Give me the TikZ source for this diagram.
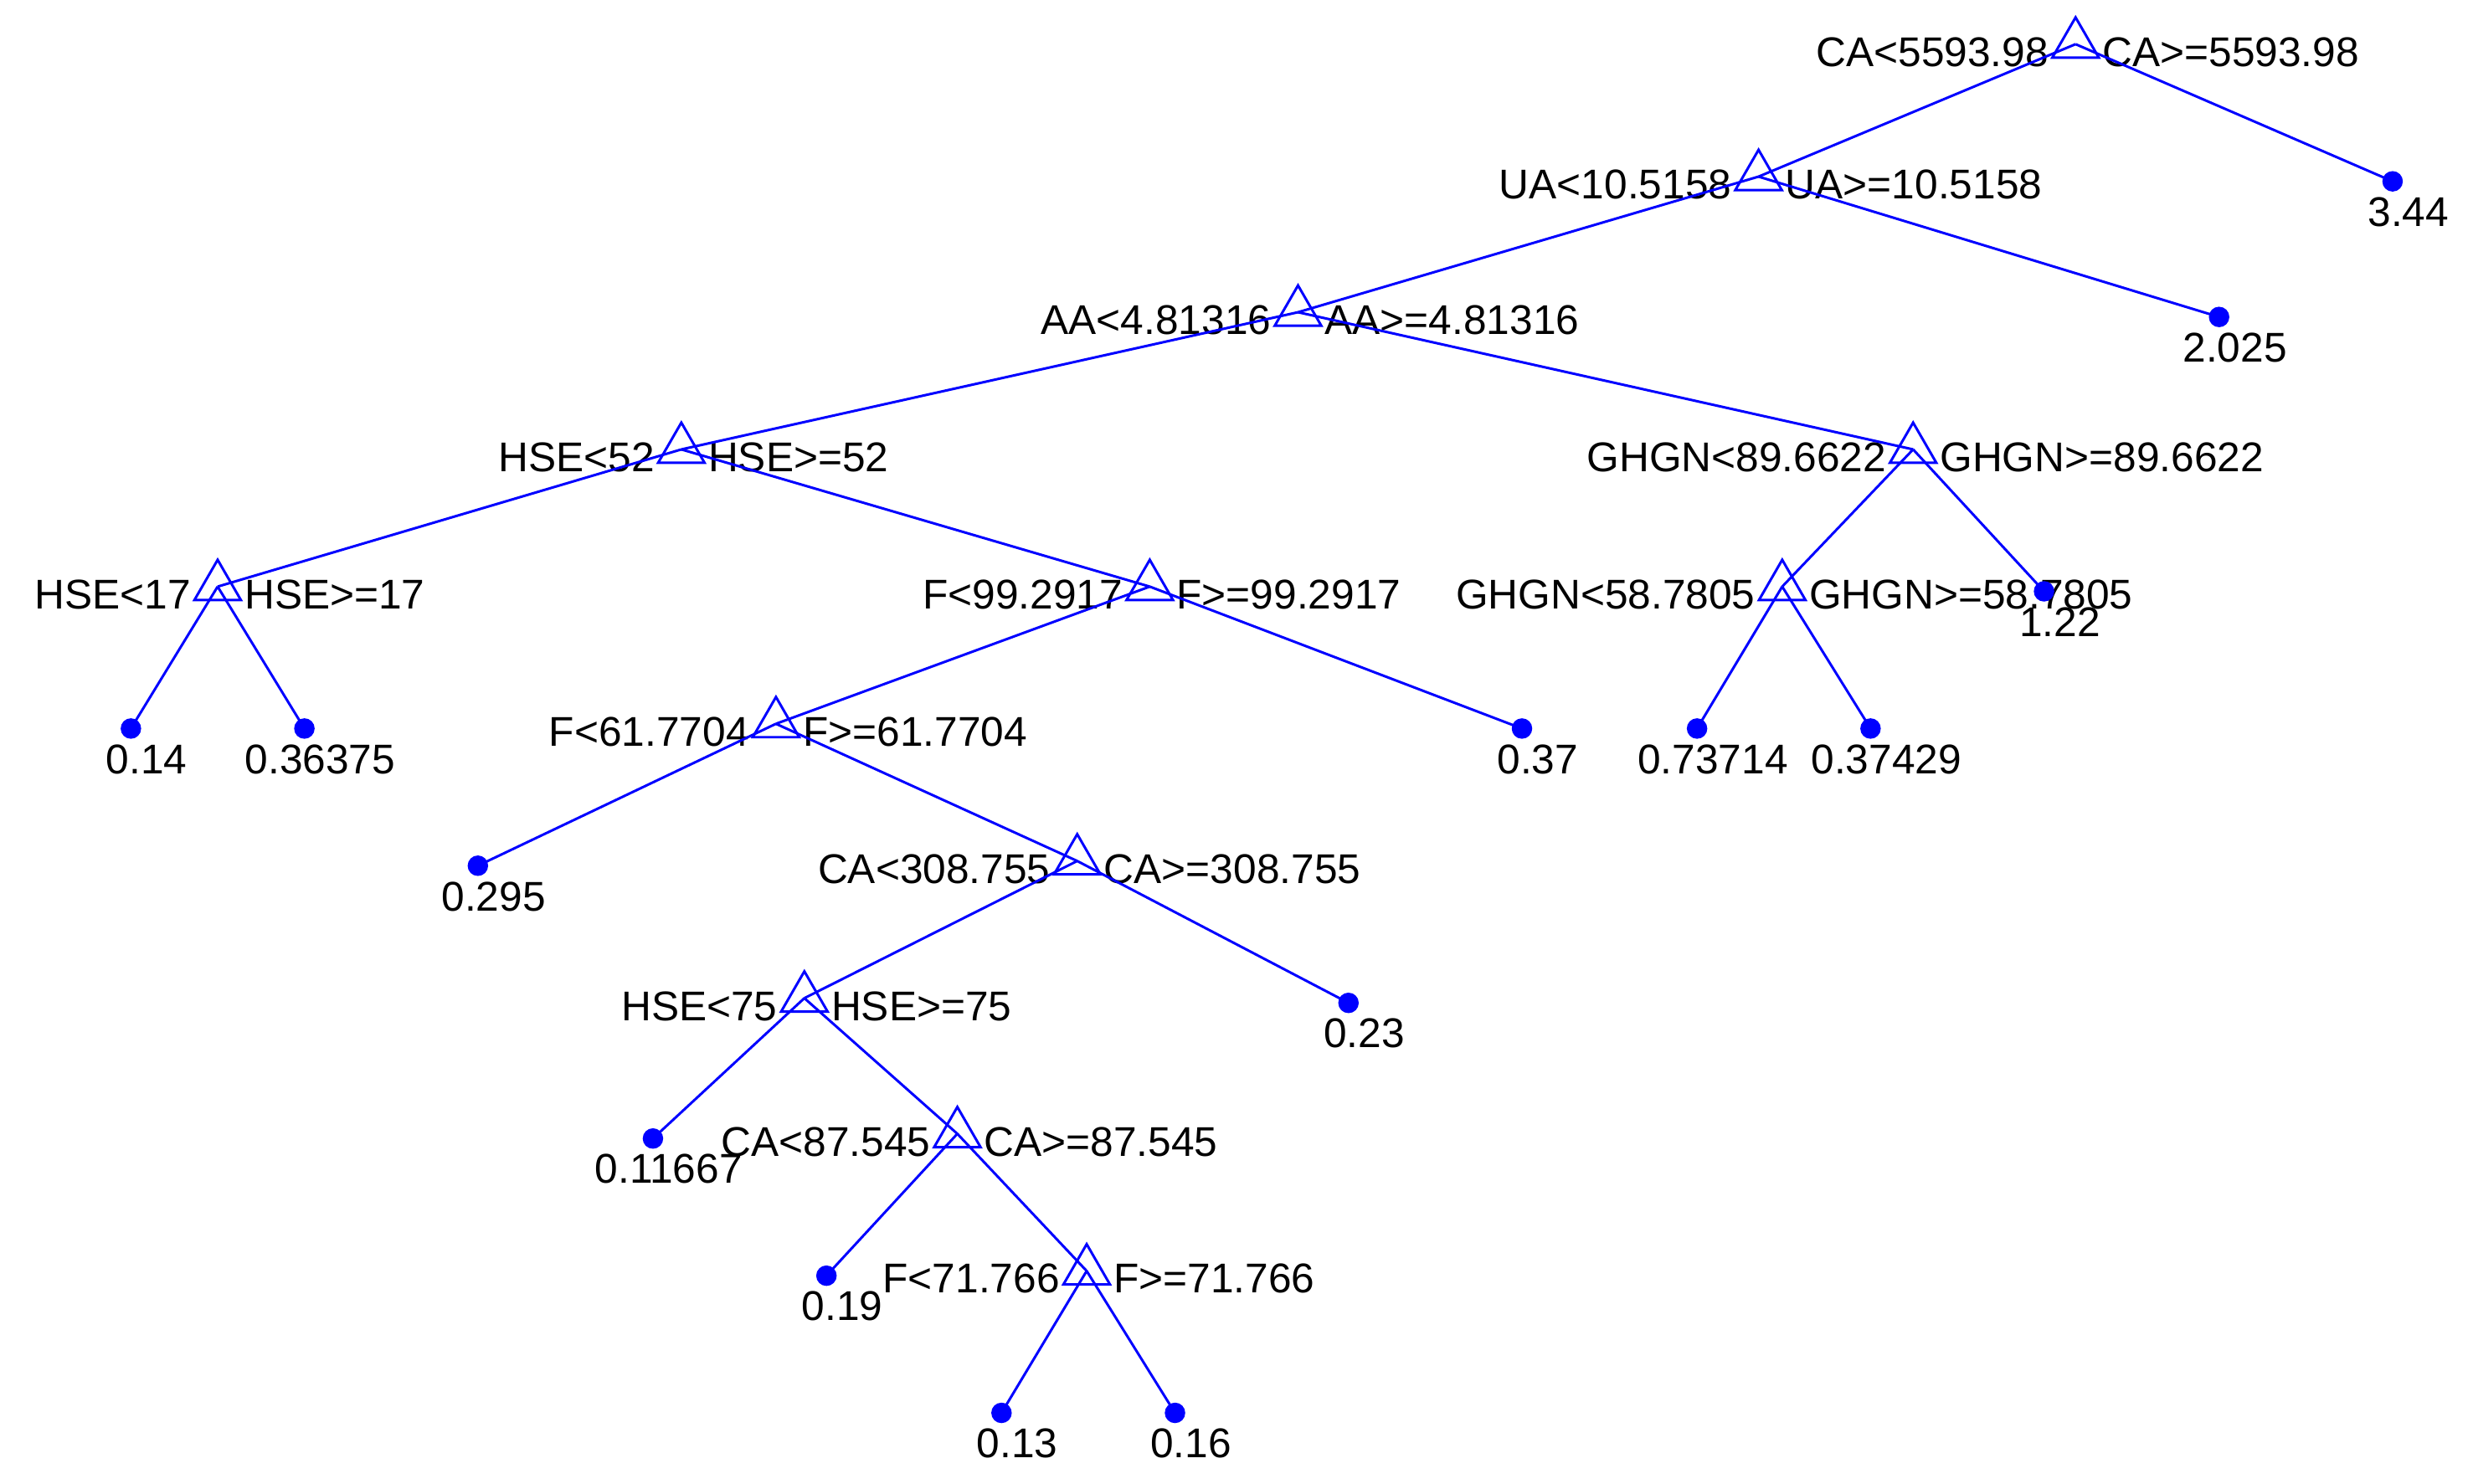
\documentclass[tikz,border=0pt]{standalone}
\usepackage{fontspec}
\setmainfont{Liberation Sans}
\usetikzlibrary{shapes.geometric,calc}
\definecolor{tb}{RGB}{0,0,255}
\begin{document}
\begin{tikzpicture}[x=0.02cm,y=-0.02cm,font=\fontsize{15}{17}\selectfont,
 tri/.style={draw=tb,regular polygon,regular polygon sides=3,minimum size=0.68cm,inner sep=0pt,line width=0.9pt},
 leaf/.style={circle,fill=tb,minimum size=0.26cm,inner sep=0pt},
 e/.style={draw=tb,line width=0.9pt},
 L/.style={anchor=east,inner sep=1pt},
 R/.style={anchor=west,inner sep=1pt},
 V/.style={anchor=north,inner sep=1pt}]
\useasboundingbox (0,0) rectangle (1568,941);
\newcommand\tn[4]{\node[tri] (#1) at #2 {};
 \node[L] at ($(#1.center)+(-15,5)$) {#3};
 \node[R] at ($(#1.center)+(15,5)$) {#4};}
\newcommand\lf[3]{\node[leaf] (#1) at #2 {};
 \node[V] at ($(#1.center)+(10,8)$) {#3};}
\tn{n1}{(1316,28)}{CA<5593.98}{CA>=5593.98}
\tn{n2}{(1115,112)}{UA<10.5158}{UA>=10.5158}
\tn{n3}{(823,198)}{AA<4.81316}{AA>=4.81316}
\tn{n4}{(432,285)}{HSE<52}{HSE>=52}
\tn{n5}{(1213,285)}{GHGN<89.6622}{GHGN>=89.6622}
\tn{n6}{(138,372)}{HSE<17}{HSE>=17}
\tn{n7}{(729,372)}{F<99.2917}{F>=99.2917}
\tn{n8}{(492,459)}{F<61.7704}{F>=61.7704}
\tn{n9}{(683,546)}{CA<308.755}{CA>=308.755}
\tn{n10}{(510,633)}{HSE<75}{HSE>=75}
\tn{n11}{(607,719)}{CA<87.545}{CA>=87.545}
\tn{n12}{(689,806)}{F<71.766}{F>=71.766}
\tn{n13}{(1130,372)}{GHGN<58.7805}{GHGN>=58.7805}
\lf{a}{(1517,115)}{3.44}
\lf{b}{(1407,201)}{2.025}
\lf{c}{(83,462)}{0.14}
\lf{d}{(193,462)}{0.36375}
\lf{f}{(965,462)}{0.37}
\lf{g}{(303,549)}{0.295}
\lf{h}{(855,636)}{0.23}
\lf{i}{(414,722)}{0.11667}
\lf{j}{(524,809)}{0.19}
\lf{k}{(635,896)}{0.13}
\lf{l}{(745,896)}{0.16}
\lf{m}{(1296,375)}{1.22}
\lf{o}{(1076,462)}{0.73714}
\lf{p}{(1186,462)}{0.37429}
\foreach \u/\v in {n1/n2,n1/a,n2/n3,n2/b,n3/n4,n3/n5,n4/n6,n4/n7,n6/c,n6/d,n7/n8,n7/f,n8/g,n8/n9,n9/n10,n9/h,n10/i,n10/n11,n11/j,n11/n12,n12/k,n12/l,n5/n13,n5/m,n13/o,n13/p}
 \draw[e] (\u.center) -- (\v.center);
\end{tikzpicture}
\end{document}
